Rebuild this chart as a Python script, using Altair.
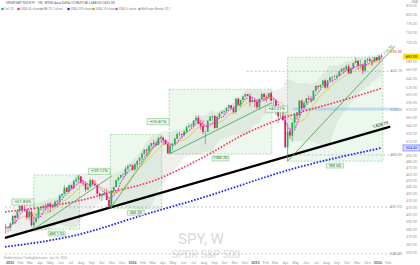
import altair as alt
import pandas as pd

# ---------------- weekly SPY candles (Mon-dated weeks from 2022-12-19) ----------------
FIRST_WEEK = "2022-12-19"
FIRST_OPEN = 383.5
CLOSES = [
    382.9, 382.4,
    388.1, 398.5, 395.9, 405.7, 412.4, 408.0, 407.3, 396.4, 404.2, 385.9,
    390.0, 395.8, 409.4, 409.2, 412.5, 412.2, 415.9, 412.6, 411.6, 418.6,
    420.0, 427.9, 429.9, 439.5, 433.2, 443.3, 438.6, 449.3, 452.2, 456.9,
    446.8, 445.7, 436.5, 440.0, 451.2, 445.5, 443.4, 430.4, 427.5, 429.5,
    431.5, 421.2, 410.7, 434.7, 440.6, 450.8, 455.3, 459.1, 460.2, 469.3,
    473.7, 475.3,
    467.9, 476.7, 482.4, 487.4, 494.4, 501.2, 499.5, 507.9, 512.9, 511.7,
    509.8, 521.2, 523.1, 518.4, 510.9, 495.2, 508.3, 511.3, 520.8, 529.5,
    529.4, 527.4, 534.0, 542.8, 544.5, 544.2, 554.6, 560.0, 549.0, 544.4,
    532.9, 533.3, 554.3, 562.1, 563.7, 540.4, 562.0, 568.3, 571.5, 573.0,
    579.6, 584.6, 579.0, 571.0, 598.2, 585.8, 595.5, 602.6, 607.8, 604.2,
    591.2, 595.0,
    592.0, 580.5, 597.6, 608.0, 601.8, 600.8, 609.7, 594.0, 594.2, 575.9,
    562.8, 564.0, 555.7, 505.3, 533.9, 526.4, 550.6, 566.8, 564.3, 594.2,
    579.1, 589.4, 599.1, 597.0, 594.3, 614.9, 625.3, 623.6, 627.6, 637.1,
    621.7, 637.2, 643.4, 645.3, 645.1, 647.2, 657.4, 663.7, 661.8, 669.2,
    653.0, 664.4, 677.3, 682.1, 671.0, 671.9, 659.0, 683.4, 685.7, 681.8,
    680.6, 690.3,
    683.2, 694.1, 692.0,
]
HIGHS = [
    387.4, 384.4,
    389.3, 399.1, 400.2, 408.2, 418.3, 416.5, 415.0, 408.0, 404.5, 407.5,
    396.5, 402.5, 409.7, 411.9, 415.1, 415.7, 416.0, 417.6, 414.5, 420.7,
    421.0, 428.7, 431.0, 443.9, 440.0, 444.3, 444.0, 451.4, 456.4, 459.4,
    457.8, 451.7, 448.1, 445.2, 453.7, 452.0, 451.1, 444.4, 431.9, 431.1,
    437.3, 438.1, 424.8, 436.3, 441.0, 451.4, 456.0, 459.6, 461.4, 473.5,
    475.9, 477.6,
    476.4, 478.6, 482.7, 488.8, 496.0, 502.1, 503.5, 510.1, 513.3, 518.2,
    516.0, 524.1, 523.7, 524.4, 520.0, 515.7, 509.9, 512.5, 522.6, 531.5,
    533.1, 530.0, 536.1, 544.0, 550.1, 548.8, 555.1, 564.7, 565.2, 556.1,
    555.0, 534.9, 555.0, 563.2, 564.2, 564.0, 563.0, 570.4, 574.7, 574.1,
    580.3, 585.3, 584.9, 582.7, 599.6, 600.2, 596.2, 603.4, 608.0, 607.9,
    609.1, 602.5,
    597.0, 596.6, 599.4, 610.8, 609.9, 606.4, 610.8, 613.2, 599.4, 596.4,
    577.0, 570.6, 577.0, 568.0, 548.6, 539.8, 551.6, 568.1, 570.5, 595.0,
    596.3, 593.2, 600.3, 605.0, 603.0, 616.4, 626.3, 626.9, 628.4, 637.6,
    639.8, 638.0, 646.2, 646.0, 649.5, 652.2, 659.1, 664.6, 667.3, 672.7,
    673.9, 667.5, 678.0, 689.7, 684.0, 684.9, 675.4, 684.6, 688.4, 689.1,
    685.0, 691.7,
    690.8, 696.0, 697.8,
]
LOWS = [
    374.8, 376.4,
    377.8, 386.3, 387.3, 395.3, 402.5, 405.0, 404.0, 393.6, 392.3, 384.3,
    380.7, 389.4, 393.7, 405.8, 406.0, 407.3, 403.8, 403.7, 408.9, 409.9,
    410.9, 416.2, 424.2, 429.9, 432.5, 431.2, 437.1, 438.0, 448.0, 449.0,
    446.3, 443.3, 433.0, 435.4, 440.0, 442.4, 442.9, 429.4, 422.3, 418.9,
    427.0, 421.1, 409.2, 409.9, 431.3, 439.7, 449.7, 452.7, 454.3, 457.5,
    466.4, 472.6,
    466.4, 466.0, 469.0, 481.1, 482.9, 491.9, 490.7, 492.9, 504.9, 508.2,
    508.1, 509.0, 518.5, 509.9, 509.9, 493.9, 495.0, 499.9, 510.9, 519.9,
    524.7, 521.7, 524.3, 531.4, 541.5, 540.9, 541.6, 552.6, 547.3, 537.2,
    529.3, 510.3, 532.5, 553.9, 553.9, 539.4, 539.5, 559.6, 567.1, 565.3,
    569.6, 576.9, 576.1, 568.4, 567.9, 584.0, 580.9, 594.6, 601.0, 602.8,
    582.5, 589.7,
    580.9, 576.7, 575.3, 596.0, 592.8, 591.7, 598.6, 593.4, 582.4, 565.6,
    549.7, 557.5, 554.5, 505.1, 481.8, 520.1, 514.9, 537.4, 556.4, 564.0,
    575.6, 579.0, 585.7, 594.9, 592.0, 596.0, 613.2, 617.4, 619.5, 626.8,
    619.3, 620.5, 636.0, 632.9, 643.0, 638.6, 647.6, 655.0, 653.8, 659.4,
    652.6, 652.7, 663.5, 676.0, 661.2, 662.2, 650.9, 655.0, 677.2, 679.2,
    670.0, 680.8,
    681.0, 683.0, 688.0,
]

# ---------------- long moving averages ----------------
RED_MA_DATES = ["2022-12-17", "2023-04-11", "2023-08-05", "2023-10-31", "2024-02-22",
                "2024-07-15", "2024-12-06", "2025-05-02", "2025-08-26", "2026-01-12"]
RED_MA = [404.1, 411.1, 421.2, 433.1, 448.3, 483.8, 531.0, 568.1, 590.2, 620.1]
BLUE_MA_DATES = ["2022-12-17", "2023-07-07", "2024-02-22", "2024-07-15", "2025-05-02", "2026-01-12"]
BLUE_MA = [358.0, 371.9, 402.6, 422.7, 470.6, 504.4]

# ---------------- drawn trend lines ----------------
BLACK_DATES = ["2022-12-17", "2026-02-07"]
BLACK_VALUES = [369.3, 543.1]
GREEN_IDS = ["g1", "g1", "g2", "g2", "g3", "g3", "g4", "g4"]
GREEN_DATES = ["2023-03-13", "2023-10-31", "2023-10-27", "2024-03-28",
               "2024-04-19", "2025-02-19", "2025-04-07", "2026-02-22"]
GREEN_VALUES = [380.65, 457.7, 409.2, 526.4, 493.9, 590.0, 481.8, 718.3]

# ---------------- date & price range boxes ----------------
BOX_START = ["2023-03-13", "2023-10-27", "2024-04-19", "2025-04-07"]
BOX_END = ["2023-07-27", "2024-03-28", "2025-02-19", "2026-01-16"]
BOX_CENTER = ["2023-05-20", "2024-01-11", "2024-09-19", "2025-08-26"]
BOX_LOW = [380.65, 409.2, 493.9, 481.8]
BOX_HIGH = [459.4, 528.4, 618.0, 690.5]
BOX_MID = [418.2, 465.0, 552.5, 576.8]
BOX_PCT = ["+21.83%", "+29.12%", "+25.81%", "+43.31%"]
BOX_SPAN = ["4M 11D", "5M 2D", "10M 2D", "9M 5D"]

# ---------------- horizontal levels ----------------
LEVEL_START = ["2024-12-06", "2025-04-07", "2022-12-17", "2022-12-17"]
LEVEL_END = ["2026-03-02", "2026-03-02", "2026-03-02", "2026-03-02"]
LEVEL_PRICE = [657.7, 492.3, 411.1, 349.4]
ZONE_START = ["2025-04-25"]
ZONE_END = ["2026-03-02"]
ZONE_LOW = [575.0]
ZONE_HIGH = [579.0]

# ---------------- axis tick labels (labels under the price tags are hidden) ----------------
PRICE_TICKS = [350, 360, 370, 380, 390, 400, 410, 420, 430, 440, 450, 460, 470, 480, 490,
               515, 530, 545, 560, 575, 590, 605, 620, 640, 660, 680, 725, 750,
               775, 800, 825]
MONTH_TICKS = pd.date_range("2023-01-01", "2026-02-01", freq="MS")
MONTH_LABELS = [d.strftime("%Y") if d.month == 1 else d.strftime("%b") for d in MONTH_TICKS]

# ---------------- frames ----------------
dates = pd.date_range(FIRST_WEEK, periods=len(CLOSES), freq="7D").strftime("%Y-%m-%d")
opens = [FIRST_OPEN] + CLOSES[:-1]
candles = pd.DataFrame({"date": dates, "open": opens, "high": HIGHS, "low": LOWS, "close": CLOSES})
candles["dir"] = ["up" if c >= o else "down" for o, c in zip(opens, CLOSES)]

red_df = pd.DataFrame({"date": RED_MA_DATES, "v": RED_MA})
blue_df = pd.DataFrame({"date": BLUE_MA_DATES, "v": BLUE_MA})
black_df = pd.DataFrame({"date": BLACK_DATES, "v": BLACK_VALUES})
green_df = pd.DataFrame({"id": GREEN_IDS, "date": GREEN_DATES, "v": GREEN_VALUES})
box_df = pd.DataFrame({"start": BOX_START, "end": BOX_END, "center": BOX_CENTER, "low": BOX_LOW,
                       "high": BOX_HIGH, "mid": BOX_MID, "pct": BOX_PCT, "span": BOX_SPAN})
lvl_df = pd.DataFrame({"start": LEVEL_START, "end": LEVEL_END, "price": LEVEL_PRICE})
zone_df = pd.DataFrame({"start": ZONE_START, "end": ZONE_END, "low": ZONE_LOW, "high": ZONE_HIGH})
ytick_df = pd.DataFrame({"price": PRICE_TICKS})
xtick_df = pd.DataFrame({"date": MONTH_TICKS.strftime("%Y-%m-%d"), "label": MONTH_LABELS,
                         "is_year": [d.month == 1 for d in MONTH_TICKS]})
one = pd.DataFrame({"k": [0]})

# ---------------- scales ----------------
def dt(y, m, d):
    return alt.DateTime(year=y, month=m, date=d, utc=True)

xs = alt.Scale(type="utc", domain=[dt(2022, 12, 17), dt(2026, 3, 2)])
ys = alt.Scale(type="log", domain=[342.1, 842.0], nice=False)

X = alt.X("date:T", scale=xs, axis=None)
UP, DOWN = "#21b24b", "#e8175d"
GREEN = "#43a047"
FONT = "Roboto"
AXIS_GRAY = "#9a9a9a"

layers = []

# watermark
layers.append(alt.Chart(one).mark_text(text="SPY, W", fontSize=15, color="#d9d9d9", font=FONT,
                                       align="center", baseline="alphabetic")
              .encode(x=alt.value(201), y=alt.value(244.3)))
layers.append(alt.Chart(one).mark_text(text="SPDR S&P 500", fontSize=10.5, color="#d9d9d9", font=FONT,
                                       align="center", baseline="alphabetic")
              .encode(x=alt.value(206), y=alt.value(257.8)))

# bollinger band (20w, 2 sd)
layers.append(alt.Chart(candles)
              .transform_window(bb_mid="mean(close)", bb_sd="stdev(close)", frame=[-19, 0],
                                sort=[alt.SortField("date")])
              .transform_filter("datum.bb_sd > 0")
              .transform_calculate(bb_up="datum.bb_mid + 2 * datum.bb_sd",
                                   bb_lo="datum.bb_mid - 2 * datum.bb_sd")
              .mark_area(color="#9e9e9e", opacity=0.17, interpolate="monotone")
              .encode(x=X, y=alt.Y("bb_lo:Q", scale=ys, axis=None), y2="bb_up:Q"))

# boxes
layers.append(alt.Chart(box_df).mark_rect(fill="#66bb6a", fillOpacity=0.12, stroke="#81c784",
                                          strokeWidth=0.6, strokeDash=[2, 1.5])
              .encode(x=alt.X("start:T", scale=xs, axis=None), x2="end:T",
                      y=alt.Y("low:Q", scale=ys, axis=None), y2="high:Q"))

# horizontal levels
layers.append(alt.Chart(lvl_df).mark_rule(color="#9e9e9e", strokeWidth=0.6, strokeDash=[2, 2])
              .encode(x=alt.X("start:T", scale=xs, axis=None), x2="end:T",
                      y=alt.Y("price:Q", scale=ys, axis=None)))
layers.append(alt.Chart(zone_df).mark_rect(fill="#90caf9", fillOpacity=0.4, stroke="#90b8e0", strokeWidth=0.4)
              .encode(x=alt.X("start:T", scale=xs, axis=None), x2="end:T",
                      y=alt.Y("low:Q", scale=ys, axis=None), y2="high:Q"))

# long MAs
layers.append(alt.Chart(blue_df).mark_line(color="#1f1fff", strokeWidth=1.8, strokeDash=[1.6, 1.6],
                                           interpolate="monotone")
              .encode(x=X, y=alt.Y("v:Q", scale=ys, axis=None)))
layers.append(alt.Chart(red_df).mark_line(color="#ff2a4a", strokeWidth=1.6, strokeDash=[1.6, 1.6],
                                          interpolate="monotone")
              .encode(x=X, y=alt.Y("v:Q", scale=ys, axis=None)))

# trend lines
layers.append(alt.Chart(black_df).mark_line(color="#000000", strokeWidth=2.2)
              .encode(x=X, y=alt.Y("v:Q", scale=ys, axis=None)))
layers.append(alt.Chart(green_df).mark_line(color=GREEN, strokeWidth=0.8)
              .encode(x=X, y=alt.Y("v:Q", scale=ys, axis=None), detail="id:N"))

# short MA (10w)
layers.append(alt.Chart(candles)
              .transform_window(ma10="mean(close)", frame=[-9, 0], sort=[alt.SortField("date")])
              .mark_line(color="#d8c000", strokeWidth=0.6)
              .encode(x=X, y=alt.Y("ma10:Q", scale=ys, axis=None)))

# candles
color = alt.Color("dir:N", scale=alt.Scale(domain=["up", "down"], range=[UP, DOWN]), legend=None)
layers.append(alt.Chart(candles).mark_rule(strokeWidth=0.6)
              .encode(x=X, y=alt.Y("low:Q", scale=ys, axis=None), y2="high:Q", color=color))
layers.append(alt.Chart(candles).mark_bar(width=1.7)
              .encode(x=X, y=alt.Y("open:Q", scale=ys, axis=None), y2="close:Q", color=color))

# short MA (5w)
layers.append(alt.Chart(candles)
              .transform_window(ma5="mean(close)", frame=[-4, 0], sort=[alt.SortField("date")])
              .mark_line(color="#e53be5", strokeWidth=1.3, strokeDash=[1.3, 1.3])
              .encode(x=X, y=alt.Y("ma5:Q", scale=ys, axis=None)))

# box labels
TAG = "M-1,-0.28L1,-0.28L1,0.28L-1,0.28Z"
layers.append(alt.Chart(box_df).mark_point(shape=TAG, size=22 * 22, filled=True, fill="#edf7ee",
                                           stroke="#66bb6a", strokeWidth=0.5, opacity=1, xOffset=-11)
              .encode(x=alt.X("start:T", scale=xs, axis=None), y=alt.Y("mid:Q", scale=ys, axis=None)))
layers.append(alt.Chart(box_df).mark_text(fontSize=4.3, color="#2e7d32", font=FONT, dx=-11,
                                          align="center", baseline="middle")
              .encode(x=alt.X("start:T", scale=xs, axis=None), y=alt.Y("mid:Q", scale=ys, axis=None),
                      text="pct:N"))
layers.append(alt.Chart(box_df).mark_point(shape=TAG, size=17 * 17, filled=True, fill="#edf7ee",
                                           stroke="#66bb6a", strokeWidth=0.5, opacity=1, yOffset=4.5)
              .encode(x=alt.X("center:T", scale=xs, axis=None), y=alt.Y("low:Q", scale=ys, axis=None)))
layers.append(alt.Chart(box_df).mark_text(fontSize=4.3, color="#2e7d32", font=FONT, dy=4.5,
                                          align="center", baseline="middle")
              .encode(x=alt.X("center:T", scale=xs, axis=None), y=alt.Y("low:Q", scale=ys, axis=None),
                      text="span:N"))

# level labels at right end
layers.append(alt.Chart(lvl_df).mark_text(fontSize=3.8, color="#8a8a8a", font=FONT, align="right",
                                          baseline="middle")
              .encode(x=alt.value(402), y=alt.Y("price:Q", scale=ys, axis=None),
                      text=alt.Text("price:Q", format=".2f")))
layers.append(alt.Chart(zone_df).mark_text(fontSize=3.8, color="#6f8fb8", font=FONT, align="right",
                                           baseline="middle")
              .encode(x=alt.value(402), y=alt.Y("low:Q", scale=ys, axis=None),
                      text=alt.Text("low:Q", format=".2f")))
box_top = box_df.tail(1)
layers.append(alt.Chart(box_top).mark_text(fontSize=3.8, color="#e53935", font=FONT, align="right",
                                           baseline="middle", dy=-5)
              .encode(x=alt.value(402), y=alt.Y("high:Q", scale=ys, axis=None),
                      text=alt.Text("high:Q", format=".2f")))

# trend line labels
last_green = green_df[green_df["id"] == "g4"].tail(1)
layers.append(alt.Chart(last_green).mark_text(fontSize=4, color=GREEN, font=FONT, angle=315,
                                              align="right", baseline="bottom", dx=-2)
              .encode(x=X, y=alt.Y("v:Q", scale=ys, axis=None), text=alt.Text("v:Q", format=".2f")))
last_black = black_df.tail(1)
layers.append(alt.Chart(last_black).mark_text(fontSize=4.2, color="#000000", font=FONT, angle=345,
                                              align="right", baseline="bottom", dx=-1, dy=-2)
              .encode(x=X, y=alt.Y("v:Q", scale=ys, axis=None), text=alt.value("1,528.73")))

# price scale labels (right) and time scale labels (bottom)
layers.append(alt.Chart(ytick_df).mark_text(fontSize=3.6, color=AXIS_GRAY, font=FONT, align="left",
                                            baseline="middle")
              .encode(x=alt.value(406), y=alt.Y("price:Q", scale=ys, axis=None),
                      text=alt.Text("price:Q", format=".2f")))
layers.append(alt.Chart(xtick_df).transform_filter("!datum.is_year")
              .mark_text(fontSize=3.6, color=AXIS_GRAY, font=FONT, align="center", baseline="middle")
              .encode(x=X, y=alt.value(262.8), text="label:N"))
layers.append(alt.Chart(xtick_df).transform_filter("datum.is_year")
              .mark_text(fontSize=3.6, color="#6a6a6a", font=FONT, fontWeight="bold", align="center",
                         baseline="middle")
              .encode(x=X, y=alt.value(262.8), text="label:N"))

# price-scale tags
TAGR = "M-1,-0.36L1,-0.36L1,0.36L-1,0.36Z"
last = candles.tail(1)
layers.append(alt.Chart(last).mark_point(shape=TAGR, size=17 * 17, filled=True,
                                         fill="#ffe600", opacity=1)
              .encode(x=alt.value(411.5), y=alt.Y("close:Q", scale=ys, axis=None)))
layers.append(alt.Chart(last).mark_text(fontSize=3.8, color="#000000", font=FONT, align="center", baseline="middle")
              .encode(x=alt.value(411.5), y=alt.Y("close:Q", scale=ys, axis=None),
                      text=alt.Text("close:Q", format=".2f")))
blue_last = blue_df.tail(1)
layers.append(alt.Chart(blue_last).mark_point(shape=TAGR, size=17 * 17, filled=True,
                                              fill="#d6e4ff", stroke="#1f1fff", strokeWidth=0.4, opacity=1)
              .encode(x=alt.value(411.5), y=alt.Y("v:Q", scale=ys, axis=None)))
layers.append(alt.Chart(blue_last).mark_text(fontSize=3.8, color="#1f1fff", font=FONT, align="center", baseline="middle")
              .encode(x=alt.value(411.5), y=alt.Y("v:Q", scale=ys, axis=None),
                      text=alt.Text("v:Q", format=".2f")))

# header texts
layers.append(alt.Chart(one).mark_text(text="SPDR S&P 500 ETF · 1W · NYSE Arca   O694.10 H697.80 L688.00 C692.00",
                                       fontSize=3.4, color="#555555", font=FONT, align="left", baseline="middle")
              .encode(x=alt.value(6), y=alt.value(3)))
LEG_X = [1, 17, 40, 67, 92, 115, 138]
LEG_C = ["#21b24b", "#ff2a4a", "#9e9e9e", "#1f1fff", "#b5a800", "#e53be5", "#9e9e9e"]
LEG_T = ["Vol 20", "SMA 50 close", "BB 20 2 close", "SMA 200 close", "SMA 10 close", "SMA 5 close",
         "Bollinger Bands 20 2"]
for lx, lc, lt in zip(LEG_X, LEG_C, LEG_T):
    layers.append(alt.Chart(one).mark_square(size=5, color=lc, opacity=1)
                  .encode(x=alt.value(lx + 1.5), y=alt.value(9)))
    layers.append(alt.Chart(one).mark_text(text=lt, fontSize=3.2, color="#8a8a8a", font=FONT,
                                           align="left", baseline="middle")
                  .encode(x=alt.value(lx + 3.5), y=alt.value(9)))
layers.append(alt.Chart(one).mark_text(text="Published on TradingView.com, Jan 16, 2026", fontSize=3.2,
                                       color="#9a9a9a", font=FONT, align="left", baseline="middle")
              .encode(x=alt.value(4), y=alt.value(258)))
layers.append(alt.Chart(one).mark_text(text="USD", fontSize=3.4, color="#777777", font=FONT,
                                       align="right", baseline="middle")
              .encode(x=alt.value(418), y=alt.value(2)))

chart = (alt.layer(*layers)
         .properties(width=403, height=260, background="white",
                     padding={"left": 0, "top": 0, "right": 17, "bottom": 5},
                     autosize=alt.AutoSizeParams(type="none"))
         .configure_view(stroke=None))

chart.save("out.html", embed_options={"renderer": "svg", "actions": False})
